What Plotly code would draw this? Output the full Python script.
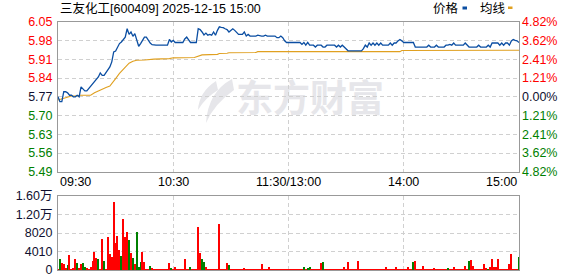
import plotly.graph_objects as go

# ---------------- data ----------------
stock_title = "三友化工[600409] 2025-12-15 15:00"
prev_close = 5.77

minutes = list(range(241))
price = [
    5.770, 5.752, 5.752, 5.789, 5.789, 5.785, 5.776, 5.776, 5.770, 5.770,
    5.776, 5.770, 5.807, 5.801, 5.792, 5.792, 5.801, 5.807, 5.820, 5.829,
    5.838, 5.844, 5.859, 5.850, 5.850, 5.859, 5.869, 5.881, 5.900, 5.937,
    5.940, 5.953, 5.968, 5.974, 5.985, 5.992, 6.023, 6.002, 6.011, 5.995,
    6.005, 5.983, 5.958, 5.968, 5.980, 5.992, 5.992, 5.980, 5.970, 5.964,
    5.962, 5.962, 5.962, 5.962, 5.962, 5.962, 5.962, 5.962, 5.983, 5.974,
    5.980, 5.972, 5.972, 5.972, 5.972, 5.972, 5.985, 5.992, 5.982, 5.972,
    5.972, 5.972, 5.972, 6.023, 6.020, 6.011, 6.000, 6.007, 5.999, 6.002,
    5.999, 6.011, 5.999, 6.017, 6.030, 6.028, 6.027, 6.023, 6.020, 6.011,
    6.017, 6.023, 6.017, 6.011, 6.002, 6.002, 6.002, 6.011, 5.996, 6.002,
    5.996, 5.996, 5.996, 5.996, 5.999, 5.996, 5.996, 5.996, 5.999, 5.996,
    5.996, 5.996, 5.996, 5.996, 5.990, 5.990, 5.996, 5.990, 5.978, 5.972,
    5.972, 5.972, 5.972, 5.972, 5.972, 5.972, 5.972, 5.965, 5.972, 5.962,
    5.972, 5.962, 5.962, 5.962, 5.955, 5.962, 5.962, 5.962, 5.955, 5.955,
    5.962, 5.962, 5.962, 5.962, 5.962, 5.955, 5.962, 5.955, 5.962, 5.955,
    5.949, 5.941, 5.941, 5.941, 5.941, 5.941, 5.941, 5.941, 5.941, 5.949,
    5.962, 5.955, 5.970, 5.962, 5.970, 5.962, 5.970, 5.962, 5.970, 5.962,
    5.962, 5.962, 5.962, 5.970, 5.962, 5.970, 5.970, 5.978, 5.983, 5.978,
    5.972, 5.972, 5.972, 5.972, 5.972, 5.972, 5.955, 5.955, 5.955, 5.955,
    5.955, 5.955, 5.955, 5.962, 5.955, 5.955, 5.955, 5.962, 5.955, 5.955,
    5.955, 5.955, 5.962, 5.962, 5.965, 5.962, 5.970, 5.962, 5.962, 5.962,
    5.962, 5.962, 5.970, 5.962, 5.955, 5.955, 5.955, 5.955, 5.955, 5.962,
    5.955, 5.955, 5.955, 5.955, 5.962, 5.955, 5.970, 5.970, 5.970, 5.970,
    5.962, 5.970, 5.962, 5.970, 5.970, 5.962, 5.978, 5.983, 5.980, 5.978,
    5.972,
]

avg_minutes = [0, 2, 4, 7, 10, 11, 17, 18, 19, 21, 23, 25, 27, 28, 30, 32, 34, 35,
               37, 39, 41, 45, 50, 58, 60, 71, 73, 75, 83, 84, 88, 89, 103, 104,
               120, 178, 179, 240]
avg_price = [5.758, 5.763, 5.768, 5.773, 5.773, 5.776, 5.776, 5.781, 5.785, 5.792,
             5.800, 5.805, 5.810, 5.818, 5.838, 5.857, 5.872, 5.883, 5.895, 5.902,
             5.906, 5.907, 5.910, 5.912, 5.915, 5.916, 5.921, 5.926, 5.928, 5.931,
             5.932, 5.934, 5.935, 5.938, 5.938, 5.938, 5.942, 5.943]

volume = [
    217, 2385, 1518, 1301, 434, 1084, 3252, 217, 434, 2385,
    1518, 434, 1301, 1518, 650, 434, 217, 650, 1951, 3902,
    2602, 2385, 217, 6721, 1951, 217, 7154, 3469, 2818, 14740,
    5853, 7371, 4336, 3035, 11057, 7154, 8238, 6504, 3686, 2602,
    1301, 8238, 650, 1734, 3902, 1734, 217, 217, 867, 434,
    217, 217, 217, 217, 217, 217, 217, 217, 1518, 434,
    217, 650, 217, 217, 217, 217, 2385, 217, 217, 650,
    217, 217, 217, 9322, 3686, 2385, 1734, 650, 217, 217,
    217, 217, 217, 217, 9973, 217, 217, 217, 1518, 1084,
    217, 217, 217, 217, 217, 217, 217, 434, 217, 217,
    217, 217, 217, 217, 217, 217, 1301, 217, 217, 217,
    650, 217, 217, 217, 217, 217, 217, 217, 217, 217,
    217, 217, 217, 217, 217, 217, 217, 217, 715, 217,
    434, 715, 217, 217, 217, 217, 217, 1590, 1806, 217,
    217, 217, 217, 217, 217, 217, 217, 217, 217, 715,
    217, 1806, 217, 217, 217, 217, 2023, 217, 217, 217,
    217, 217, 217, 217, 217, 217, 217, 217, 217, 217,
    217, 715, 217, 217, 217, 217, 650, 217, 217, 217,
    217, 217, 715, 217, 217, 1806, 2023, 217, 217, 217,
    940, 217, 217, 217, 217, 217, 434, 217, 217, 217,
    217, 217, 217, 434, 217, 217, 715, 217, 217, 217,
    217, 217, 940, 217, 2023, 2240, 940, 217, 217, 217,
    217, 217, 1373, 434, 217, 715, 2457, 715, 715, 2457,
    217, 217, 217, 217, 217, 1373, 3469, 217, 217, 217,
    2890,
]
green_minutes = [1, 5, 10, 13, 14, 21, 24, 33, 37, 39, 41, 42, 43, 48, 59, 69, 75, 76,
                 89, 128, 130, 131, 138, 185, 203, 214, 224, 240]

pct_ticks = [4.82, 3.62, 2.41, 1.21, 0.0, -1.21, -2.41, -3.62, -4.82]
price_labels = ["6.05", "5.98", "5.91", "5.84", "5.77", "5.70", "5.63", "5.56", "5.49"]
pct_labels = ["4.82%", "3.62%", "2.41%", "1.21%", "0.00%", "1.21%", "2.41%", "3.62%", "4.82%"]
vol_ticks = [0, 4010, 8020, 12030, 16040]
vol_labels = ["0", "4010", "8020", "1.20万", "1.60万"]
time_ticks = [0, 60, 120, 180, 240]
time_labels = ["09:30", "10:30", "11:30/13:00", "14:00", "15:00"]

# ---------------- style ----------------
W, H = 578, 276
ML, MR, MT, MB = 58, 59, 22, 6
PW, PH = W - ML - MR, H - MT - MB
RED, GREEN, DARK = "#ff0000", "#008000", "#101030"
BLUE, GOLD = "#0b4ea2", "#e0a020"
GRID, BORDER = "#d0d0d0", "#999999"
FONT = "Liberation Sans, Arial, Noto Sans CJK SC, sans-serif"


def px(x):
    return (x - ML) / PW


def py(y):
    return (H - MB - y) / PH


def col(p):
    return RED if p > 0 else (GREEN if p < 0 else DARK)


price_tickvals = [prev_close * (1 + p / 100) for p in pct_ticks]
price_text = [f'<span style="color:{col(p)}">{t}</span>' for p, t in zip(pct_ticks, price_labels)]
pct_text = [f'<span style="color:{col(p)}">{t}</span>' for p, t in zip(pct_ticks, pct_labels)]
bar_colors = [GREEN if m in green_minutes else RED for m in minutes]

main_dom = [py(171.7), 1.0]
vol_dom = [0.0, py(196)]

fig = go.Figure()
fig.add_trace(go.Scatter(x=avg_minutes, y=avg_price, mode="lines",
                         line=dict(color=GOLD, width=1.1), xaxis="x", yaxis="y",
                         hoverinfo="skip"))
fig.add_trace(go.Scatter(x=minutes, y=price, mode="lines",
                         line=dict(color=BLUE, width=1.3), xaxis="x", yaxis="y",
                         hoverinfo="skip"))
fig.add_trace(go.Bar(x=minutes, y=volume, marker=dict(color=bar_colors, line=dict(width=0)),
                     width=0.6, xaxis="x2", yaxis="y2", hoverinfo="skip"))

grid_common = dict(showgrid=True, gridcolor=GRID, griddash="4px,3px", gridwidth=1,
                   showline=True, linecolor=BORDER, linewidth=1, mirror=True,
                   zeroline=False, ticks="", automargin=False)

fig.update_layout(
    width=W, height=H, template="none",
    margin=dict(l=ML, r=MR, t=MT, b=MB),
    paper_bgcolor="white", plot_bgcolor="white",
    showlegend=False, bargap=0,
    font=dict(family=FONT, size=12, color=DARK),
    xaxis=dict(domain=[0, 1], range=[0, 240], tickvals=time_ticks, showticklabels=False,
               anchor="y", **grid_common),
    yaxis=dict(domain=main_dom, range=[prev_close * 0.9518, prev_close * 1.0482],
               tickvals=price_tickvals, ticktext=price_text, anchor="x",
               tickfont=dict(size=12.5), ticklabelstandoff=2, ticklabeloverflow="allow",
               **grid_common),
    yaxis3=dict(overlaying="y", side="right", range=[-4.82, 4.82], tickvals=pct_ticks,
                ticktext=pct_text, showgrid=False, zeroline=False, showline=False,
                ticks="", automargin=False, anchor="x", tickfont=dict(size=12.5),
                ticklabelstandoff=2, ticklabeloverflow="allow"),
    xaxis2=dict(domain=[0, 1], range=[0, 240], tickvals=time_ticks, showticklabels=False,
                anchor="y2", **grid_common),
    yaxis2=dict(domain=vol_dom, range=[0, 16040], tickvals=vol_ticks, ticktext=vol_labels,
                anchor="x2", tickfont=dict(size=12.5, color=DARK), ticklabelstandoff=2,
                ticklabeloverflow="allow", **grid_common),
)
# dummy trace so yaxis3 is shown
fig.add_trace(go.Scatter(x=[None], y=[None], xaxis="x", yaxis="y3", hoverinfo="skip"))

annotations = [
    dict(text=stock_title, x=px(58), y=py(9), xref="paper", yref="paper",
         xanchor="left", yanchor="middle", showarrow=False,
         font=dict(size=12.5, color="#000000")),
    dict(text="价格", x=px(431), y=py(9), xref="paper", yref="paper",
         xanchor="left", yanchor="middle", showarrow=False, font=dict(size=12.5, color="#000000")),
    dict(text="均线", x=px(478), y=py(9), xref="paper", yref="paper",
         xanchor="left", yanchor="middle", showarrow=False, font=dict(size=12.5, color="#000000")),
]
anchors = ["left", "center", "center", "center", "right"]
for t, lab, a in zip(time_ticks, time_labels, anchors):
    annotations.append(dict(text=lab, x=t, y=py(182), xref="x", yref="paper",
                            xanchor=a, yanchor="middle", showarrow=False,
                            font=dict(size=12.5, color="#000000")))
fig.update_layout(annotations=annotations)

shapes = [
    dict(type="rect", xref="paper", yref="paper", x0=px(462.5), x1=px(467),
         y0=py(9.5), y1=py(6.5), fillcolor=BLUE, line=dict(width=0)),
    dict(type="rect", xref="paper", yref="paper", x0=px(508), x1=px(512.5),
         y0=py(9), y1=py(6.5), fillcolor=GOLD, line=dict(width=0)),
    # watermark text
    dict(type="rect", xref="paper", yref="paper", x0=px(238), x1=px(382),
         y0=py(124), y1=py(79), fillcolor="rgba(0,0,0,0)", line=dict(width=0),
         layer="below",
         label=dict(text="<b>东方财富</b>", textposition="middle center",
                    font=dict(size=37, color="#e6e6ea",
                              family="Noto Sans CJK SC, sans-serif"))),
    # watermark logo
    dict(type="path", xref="paper", yref="paper", layer="below",
         path=(f"M {px(232)},{py(79)} Q {px(208)},{py(92)} {px(206)},{py(123)} "
               f"Q {px(214)},{py(104)} {px(234)},{py(90)} Z"),
         fillcolor="#e6e6ea", line=dict(width=0)),
    dict(type="path", xref="paper", yref="paper", layer="below",
         path=(f"M {px(216)},{py(81)} Q {px(199)},{py(92)} {px(198)},{py(110)} "
               f"Q {px(205)},{py(98)} {px(218)},{py(90)} Z"),
         fillcolor="#e6e6ea", line=dict(width=0)),
]
fig.update_layout(shapes=shapes)

fig.write_html("out.html")
